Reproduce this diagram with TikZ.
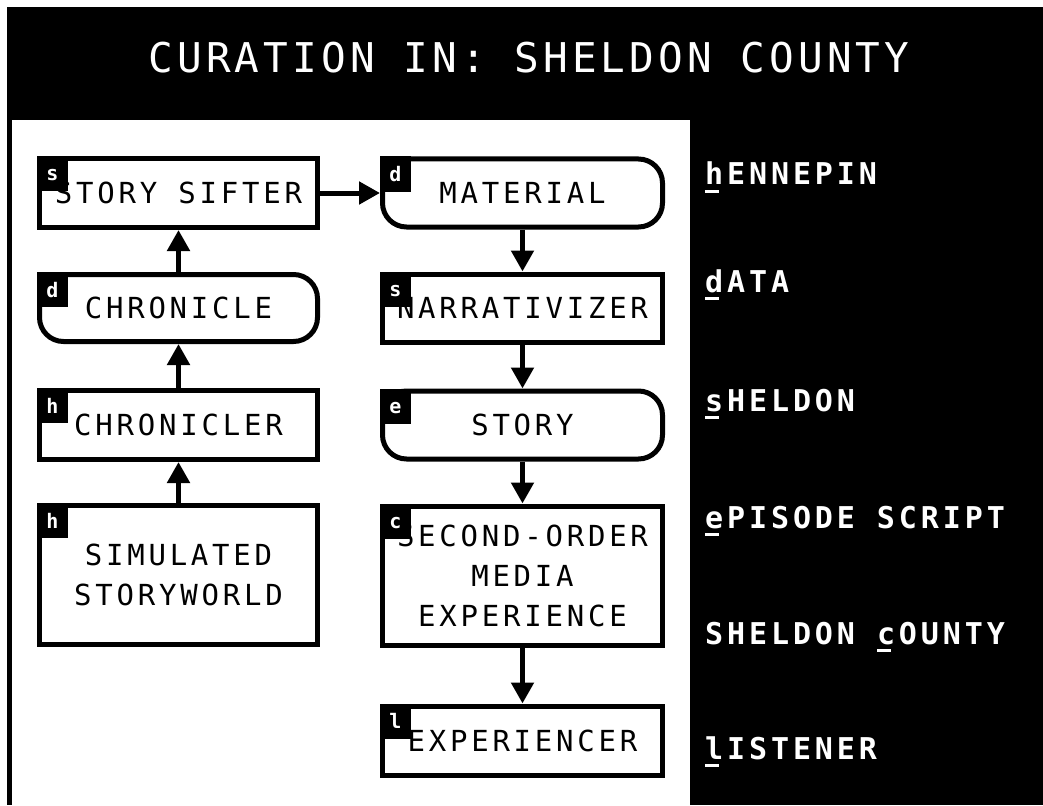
\documentclass[tikz,border=0pt]{standalone}
\usepackage{fontspec}
\newfontfamily\boxfont[LetterSpace=13]{DejaVu Sans Mono}
\newfontfamily\titlefont[LetterSpace=10]{DejaVu Sans Mono}
\newfontfamily\tagfont{DejaVu Sans Mono}
\usetikzlibrary{positioning,arrows.meta}

% underlined first letter of a key name
\newcommand\keyletter[1]{\setbox0\hbox{#1}\rlap{\rule[-8pt]{\dimexpr\wd0-4pt\relax}{3pt}}#1}

\begin{document}
\begin{tikzpicture}[
  x=1pt, y=-1pt,
  every node/.style={font=\boxfont\fontsize{29}{40}\selectfont},
  proc/.style={rectangle, draw, line width=5pt, fill=white, minimum width=278pt,
    minimum height=69pt, inner sep=0pt, align=center},
  datum/.style={proc, rounded corners=24pt},
  tag/.style={fill=black, text=white, inner sep=0pt, outer sep=0pt, minimum width=31pt,
    minimum height=35pt, text height=18.5pt, text depth=3.5pt,
    font=\tagfont\bfseries\fontsize{20}{20}\selectfont},
  flow/.style={line width=5pt, -{Triangle[length=21pt, width=22pt]}},
  keyname/.style={text=white, anchor=base west, inner sep=0pt,
    font=\boxfont\bfseries\fontsize{30}{30}\selectfont}
]
  \useasboundingbox (0,0) rectangle (1043,805);
  \fill[white] (0,0) rectangle (1043,805);
  \fill[black] (7,7) rectangle (1043,805);
  \fill[white] (12,120) rectangle (690,805);

  \node[text=white, font=\titlefont\fontsize{41}{41}\selectfont] (title) at (529,58)
        {CURATION IN: SHELDON COUNTY};

  % left column
  \node[proc] (sifter) at (178.5,193) {STORY SIFTER};
  \node[datum, below=42pt of sifter, minimum height=67pt] (chronicle) {CHRONICLE};
  \node[proc, below=44pt of chronicle] (chronicler) {CHRONICLER};
  \node[proc, below=41pt of chronicler, minimum height=139pt] (storyworld)
        {SIMULATED\\STORYWORLD};

  % right column
  \node[datum, right=60pt of sifter, minimum width=280pt, minimum height=68pt] (material) {MATERIAL};
  \node[proc, below=42pt of material, minimum width=280pt, minimum height=68pt] (narrativizer) {NARRATIVIZER};
  \node[datum, below=44pt of narrativizer, minimum width=280pt, minimum height=68pt] (story) {STORY};
  \node[proc, below=42pt of story, minimum width=280pt, minimum height=139pt] (secondorder)
        {SECOND-ORDER\\MEDIA\\EXPERIENCE};
  \node[proc, below=56pt of secondorder, minimum width=280pt] (experiencer) {EXPERIENCER};

  \foreach \n/\t in {sifter/s, chronicle/d, chronicler/h, storyworld/h, material/d,
                     narrativizer/s, story/e, secondorder/c, experiencer/l}
    \node[tag, anchor=north west] (\n-tag) at (\n.north west) {\t};

  \draw[flow] (storyworld.north) -- (chronicler.south);
  \draw[flow] (chronicler.north) -- (chronicle.south);
  \draw[flow] (chronicle.north) -- (sifter.south);
  \draw[flow] (sifter.east) -- (material.west);
  \draw[flow] (material.south) -- (narrativizer.north);
  \draw[flow] (narrativizer.south) -- (story.north);
  \draw[flow] (story.south) -- (secondorder.north);
  \draw[flow] (secondorder.south) -- (experiencer.north);

  % key
  \node[keyname] (hennepin) at (705,185) {\keyletter{h}ENNEPIN};
  \node[keyname] (data) at (705,292) {\keyletter{d}ATA};
  \node[keyname] (sheldon) at (705,411) {\keyletter{s}HELDON};
  \node[keyname] (episode) at (705,528) {\keyletter{e}PISODE SCRIPT};
  \node[keyname] (county) at (705,644) {SHELDON \keyletter{c}OUNTY};
  \node[keyname] (listener) at (705,759) {\keyletter{l}ISTENER};
\end{tikzpicture}
\end{document}
